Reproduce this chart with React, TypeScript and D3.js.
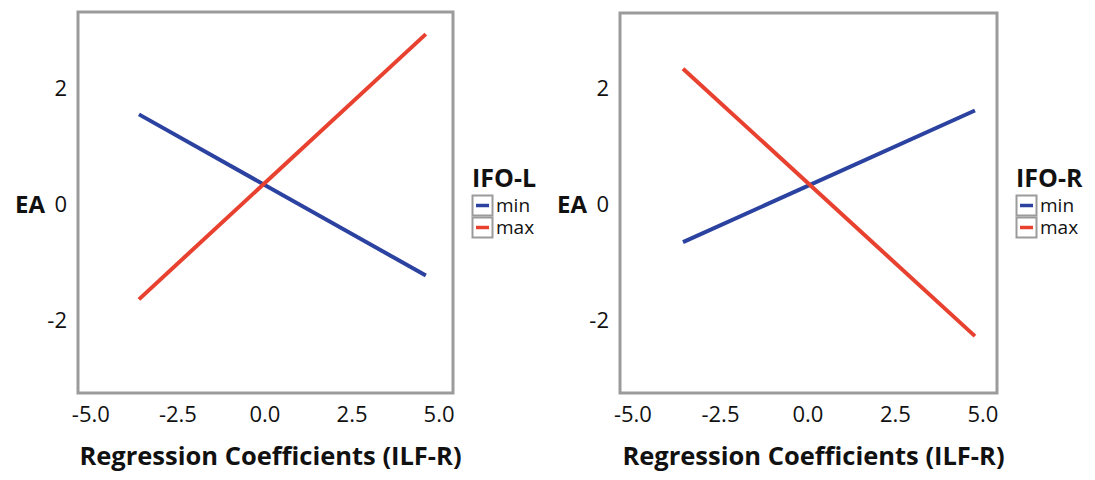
import React from 'react';
import * as d3 from 'd3';

// tick values
const xTicks = [-5, -2.5, 0, 2.5, 5];
const yTicks = [-2, 0, 2];

// fitted lines, two end points each (x = ILF-R coefficient, y = EA)
const leftX = [-3.62, 4.62];
const leftMin = [1.54, -1.23];
const leftMax = [-1.64, 2.92];

const rightX = [-3.57, 4.77];
const rightMin = [-0.65, 1.62];
const rightMax = [2.34, -2.27];

const seriesNames = ['min', 'max'];
const colors = ['#2b42a0', '#e8412f'];

const FONT = "'Open Sans', 'DejaVu Sans', sans-serif";
const fmtX = (v: number) => d3.format('.1f')(v).replace('\u2212', '-');

type PanelProps = {
  x0: number;
  x1: number;
  y0: number;
  y1: number;
  xs: number[];
  mins: number[];
  maxs: number[];
  legendTitle: string;
};

function Panel({ x0, x1, y0, y1, xs, mins, maxs, legendTitle }: PanelProps) {
  const x = d3.scaleLinear().domain([-5.37, 5.4]).range([x0, x1]);
  const y = d3.scaleLinear().domain([-3.25, 3.3]).range([y1, y0]);
  const line = d3
    .line<[number, number]>()
    .x(d => x(d[0]))
    .y(d => y(d[1]));

  const series = [mins, maxs].map(vals => xs.map((v, i) => [v, vals[i]] as [number, number]));
  const lx = x1 + 19;

  return (
    <g>
      {series.map((s, i) => (
        <path key={i} d={line(s) || ''} stroke={colors[i]} strokeWidth={4} fill="none" />
      ))}
      <rect x={x0} y={y0} width={x1 - x0} height={y1 - y0} fill="none" stroke="#9b9b9b" strokeWidth={3} />

      {yTicks.map(t => (
        <text key={t} x={x0 - 11} y={y(t)} dy="0.36em" textAnchor="end" fontSize={22} fontFamily={FONT} fill="#111">
          {String(t)}
        </text>
      ))}
      <text x={x0 - 33} y={y(0)} dy="0.36em" textAnchor="end" fontSize={24} fontWeight="bold" fontFamily={FONT} fill="#111">
        EA
      </text>

      {xTicks.map(t => (
        <text key={t} x={x(t)} y={422} textAnchor="middle" fontSize={22} fontFamily={FONT} fill="#111">
          {fmtX(t)}
        </text>
      ))}
      <text x={(x0 + x1) / 2 + 5} y={465} textAnchor="middle" fontSize={25.5} fontWeight="bold" fontFamily={FONT} fill="#111">
        Regression Coefficients (ILF-R)
      </text>

      <text x={lx} y={187} fontSize={25} fontWeight="bold" fontFamily={FONT} fill="#111">
        {legendTitle}
      </text>
      {seriesNames.map((n, i) => (
        <g key={n} transform={`translate(${lx},${195 + i * 22})`}>
          <rect x={0.5} y={0.5} width={20} height={20} fill="none" stroke="#9b9b9b" strokeWidth={2} />
          <line x1={4} x2={17} y1={10.5} y2={10.5} stroke={colors[i]} strokeWidth={3.5} />
          <text x={24} y={17} fontSize={19} fontFamily={FONT} fill="#111">
            {n}
          </text>
        </g>
      ))}
    </g>
  );
}

export default function App() {
  return (
    <svg width={1095} height={480} style={{ position: 'absolute', left: 0, top: 0, background: '#fff' }}>
      <Panel x0={78} x1={453} y0={12} y1={393} xs={leftX} mins={leftMin} maxs={leftMax} legendTitle="IFO-L" />
      <Panel x0={620} x1={997} y0={13} y1={393} xs={rightX} mins={rightMin} maxs={rightMax} legendTitle="IFO-R" />
    </svg>
  );
}
